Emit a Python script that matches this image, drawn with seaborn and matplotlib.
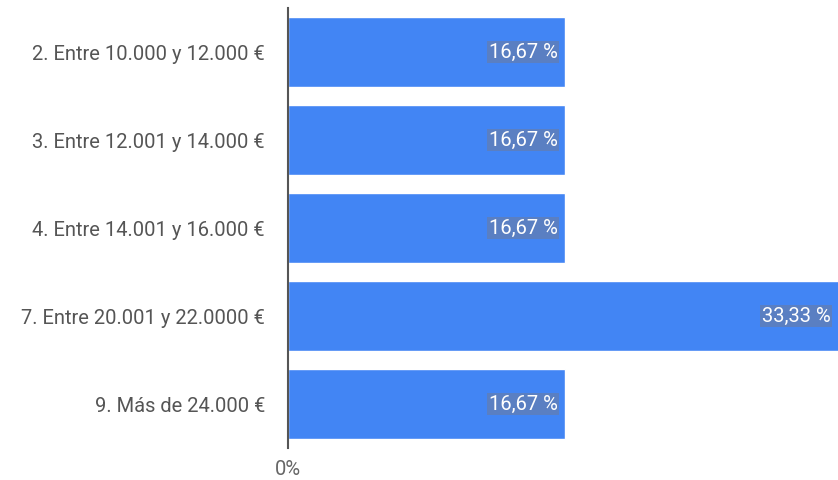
import pandas as pd
import seaborn as sns
import matplotlib.pyplot as plt

# datos
tramos = [
    "2. Entre 10.000 y 12.000 €",
    "3. Entre 12.001 y 14.000 €",
    "4. Entre 14.001 y 16.000 €",
    "7. Entre 20.001 y 22.0000 €",
    "9. Más de 24.000 €",
]
porcentajes = [16.67, 16.67, 16.67, 33.33, 16.67]
etiquetas = ["16,67 %", "16,67 %", "16,67 %", "33,33 %", "16,67 %"]

df = pd.DataFrame({"tramo": tramos, "pct": porcentajes})

sns.set_style("white")
plt.rcParams["font.family"] = ["Roboto", "DejaVu Sans"]

fig = plt.figure(figsize=(8.38, 4.8), dpi=100)
ax = fig.add_axes([0.3437, 0.0667, 0.6563, 0.9163])

sns.barplot(data=df, x="pct", y="tramo", color="#4285f4", saturation=1,
            width=0.8, ax=ax)

ax.set_xlim(0, 33.1)
ax.set_ylim(4.5, -0.5)
ax.set_xlabel("")
ax.set_ylabel("")
ax.set_xticks([0])
ax.set_xticklabels(["0%"])
ax.tick_params(axis="x", length=0, labelsize=14.5, labelcolor="#666666", pad=9)
ax.tick_params(axis="y", length=0, labelsize=14.5, labelcolor="#555555", pad=16.5)

for s in ["top", "right", "bottom"]:
    ax.spines[s].set_visible(False)
ax.spines["left"].set_color("#555555")
ax.spines["left"].set_linewidth(1.5)

for i, (v, lab) in enumerate(zip(porcentajes, etiquetas)):
    ax.text(min(v, 33.1) - 0.45, i, lab, ha="right", va="center",
            color="white", fontsize=14.5,
            bbox=dict(boxstyle="square,pad=0.08", fc="#5a7fc2", ec="none"))

fig.savefig("out.png", dpi=100)
